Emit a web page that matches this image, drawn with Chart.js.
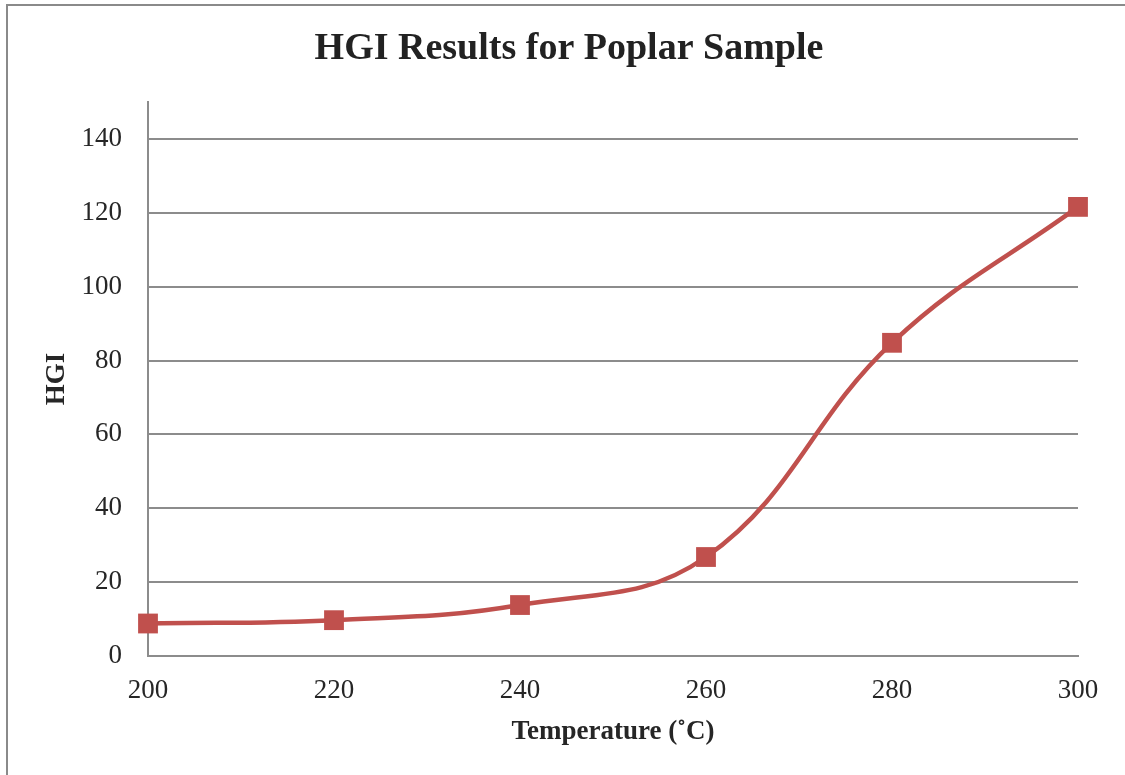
<!DOCTYPE html>
<html>
<head>
<meta charset="utf-8">
<script src="https://cdn.jsdelivr.net/npm/chart.js@4.4.1/dist/chart.umd.min.js"></script>
<style>
  html, body { margin: 0; padding: 0; background: #fff; overflow: hidden; }
  #wrap { position: relative; width: 1125px; height: 775px; overflow: hidden; background: #fff; }
  #frame { position: absolute; left: 6px; top: 4px; width: 1300px; height: 1000px; border: 2px solid #8a8a8a; box-sizing: border-box; }
  #chart { position: absolute; left: 0; top: 0; }
</style>
</head>
<body>
<div id="wrap">
  <div id="frame"></div>
  <canvas id="chart" width="1125" height="775"></canvas>
</div>
<script>
// HGI vs torrefaction temperature, poplar
const temperatures = [200, 220, 240, 260, 280, 300];
const hgiValues = [8.8, 9.7, 13.8, 26.8, 84.8, 121.6];
const yTicks = [0, 20, 40, 60, 80, 100, 120, 140];

const serif = 'Liberation Serif';
const red = '#C0504D';
const gray = '#8c8c8c';

document.addEventListener('DOMContentLoaded', () => {
    const ctx = document.getElementById('chart').getContext('2d');
    new Chart(ctx, {
        type: 'line',
        data: {
            datasets: [{
                label: 'HGI',
                data: temperatures.map((t, i) => ({ x: t, y: hgiValues[i] })),
                borderColor: red,
                backgroundColor: red,
                borderWidth: 4.5,
                tension: 0.4,
                pointStyle: 'rect',
                pointRadius: 14,
                pointHoverRadius: 14,
                pointBorderWidth: 0,
                pointBackgroundColor: red,
                clip: false
            }]
        },
        options: {
            responsive: false,
            animation: false,
            // left/right padding keeps the title centred on the frame
            layout: { padding: { left: 60, right: 47, top: 0, bottom: 0 } },
            plugins: {
                legend: { display: false },
                tooltip: { enabled: false },
                title: {
                    display: true,
                    text: 'HGI Results for Poplar Sample',
                    color: '#222',
                    font: { family: serif, size: 38, weight: 'bold' },
                    padding: { top: 26, bottom: 30.4 }
                }
            },
            scales: {
                x: {
                    type: 'linear',
                    min: 200,
                    max: 300,
                    afterFit: s => { s.height = 119; },
                    grid: { display: false, drawTicks: false },
                    border: { color: gray, width: 2 },
                    ticks: {
                        stepSize: 20,
                        padding: 19,
                        color: '#262626',
                        font: { family: serif, size: 27 }
                    },
                    title: {
                        display: true,
                        text: 'Temperature (˚C)',
                        color: '#262626',
                        font: { family: serif, size: 27, weight: 'bold' },
                        padding: { top: 0, bottom: 27 }
                    }
                },
                y: {
                    min: 0,
                    max: 150,
                    afterFit: s => { s.width = 88; },
                    afterBuildTicks: s => { s.ticks = yTicks.map(v => ({ value: v })); },
                    grid: { color: gray, lineWidth: 2, drawTicks: false },
                    border: { color: gray, width: 2 },
                    ticks: {
                        padding: 26,
                        color: '#262626',
                        font: { family: serif, size: 27 }
                    },
                    title: {
                        display: true,
                        text: 'HGI',
                        color: '#262626',
                        font: { family: serif, size: 27, weight: 'bold' },
                        padding: { top: -19, bottom: 0 }
                    }
                }
            }
        }
    });
});
</script>
</body>
</html>
